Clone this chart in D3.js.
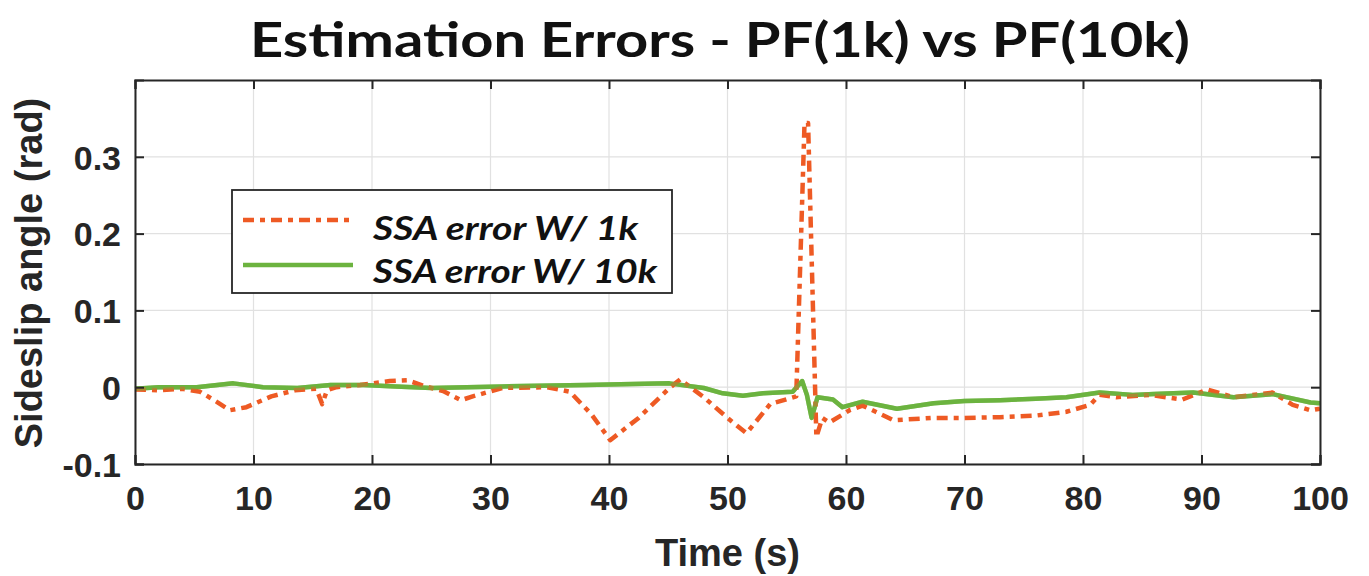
<!DOCTYPE html>
<html><head><meta charset="utf-8">
<script src="https://cdn.jsdelivr.net/npm/d3@7"></script>
<style>body{margin:0;background:#fff;}svg{display:block;}</style>
</head><body><svg id="c" width="1369" height="576"></svg>
<script>
const titleText = "Estimation Errors - PF(1k) vs PF(10k)";
const xLabel = "Time (s)";
const yLabel = "Sideslip angle (rad)";
const seriesNames = ["SSA error W/ 1k", "SSA error W/ 10k"];
const xTicks = [0,10,20,30,40,50,60,70,80,90,100];
const yTicks = [-0.1,0,0.1,0.2,0.3];
const yTickLabels = ["-0.1","0","0.1","0.2","0.3"];

const t1k = [0,2,4,5.5,7,8,9.4,11.5,13.5,15.3,15.8,16.2,17,19,21.5,23,24.5,26,27.5,28.5,31,34.8,36.7,38.5,40.1,42.5,45.1,46,48,50,51.6,53.6,55.8,56.5,56.8,57.5,58,58.6,60.3,61.4,62.5,64,67.3,70,73,76,78.6,80.6,81.4,82.8,85.6,88.4,90.5,92.7,96,97.7,99.2,100];
const v1k = [-0.003,-0.004,-0.002,-0.006,-0.02,-0.03,-0.026,-0.012,-0.004,-0.002,-0.022,-0.004,0.0,0.003,0.008,0.009,0.001,-0.005,-0.017,-0.012,-0.001,0.0,-0.006,-0.035,-0.069,-0.04,-0.001,0.01,-0.013,-0.04,-0.06,-0.022,-0.012,0.344,0.344,-0.065,-0.04,-0.046,-0.03,-0.024,-0.032,-0.043,-0.04,-0.04,-0.039,-0.037,-0.032,-0.023,-0.01,-0.013,-0.01,-0.016,-0.003,-0.013,-0.007,-0.023,-0.03,-0.028];

const t10k = [0,2,5.2,8.3,10.8,13.7,16.5,19.3,22,25,28,31,34,38,41,45.1,48,49.6,51.3,53,55.5,56.3,56.7,57.1,57.6,58.9,59.7,61.4,64.3,67.4,70,73,76,78.6,81.4,84.2,86,89.3,92.7,96,99.2,100];
const v10k = [-0.002,0.0,0.0,0.005,0.0,-0.001,0.003,0.003,0.001,-0.001,0.0,0.001,0.002,0.003,0.004,0.005,-0.001,-0.008,-0.011,-0.008,-0.006,0.008,-0.01,-0.04,-0.013,-0.016,-0.026,-0.019,-0.028,-0.021,-0.018,-0.017,-0.015,-0.013,-0.007,-0.01,-0.009,-0.007,-0.013,-0.009,-0.02,-0.021];

const colors = ["#EE5A24", "#6CB33F"];

const svg = d3.select("#c");
const L=135, R=1320, T=80, B=464;
const x = d3.scaleLinear().domain([0,100]).range([L,R]);
const y = d3.scaleLinear().domain([-0.1,0.4]).range([B,T]);

// grid
const g = svg.append("g");
g.selectAll("line.gx").data(xTicks).join("line")
  .attr("x1",d=>x(d)).attr("x2",d=>x(d)).attr("y1",T).attr("y2",B)
  .attr("stroke","#e1e1e1").attr("stroke-width",1.2);
g.selectAll("line.gy").data(yTicks).join("line")
  .attr("y1",d=>y(d)).attr("y2",d=>y(d)).attr("x1",L).attr("x2",R)
  .attr("stroke","#e1e1e1").attr("stroke-width",1.2);

// lines
const line = d3.line().x(d=>x(d[0])).y(d=>y(d[1]));
const d1 = t1k.map((t,i)=>[t,v1k[i]]);
const d2 = t10k.map((t,i)=>[t,v10k[i]]);
svg.append("path").attr("d",line(d2)).attr("fill","none").attr("stroke",colors[1])
  .attr("stroke-width",4.5).attr("stroke-linejoin","round");
svg.append("path").attr("d",line(d1)).attr("fill","none").attr("stroke",colors[0])
  .attr("stroke-width",4.5).attr("stroke-dasharray","11,6,5,6").attr("stroke-linejoin","round");
svg.append("path").attr("d",line(d2)).attr("fill","none").attr("stroke",colors[1])
  .attr("stroke-width",4.5).attr("stroke-linejoin","round").attr("opacity",0.55);

// axes
const xa = svg.append("g").attr("transform",`translate(0,${B})`)
  .call(d3.axisBottom(x).tickValues(xTicks).tickSize(-9).tickPadding(22).tickFormat(d3.format("d")));
const xaTop = svg.append("g").attr("transform",`translate(0,${T})`)
  .call(d3.axisTop(x).tickValues(xTicks).tickSize(-9).tickFormat(""));
const ya = svg.append("g").attr("transform",`translate(${L},0)`)
  .call(d3.axisLeft(y).tickValues(yTicks).tickSize(-9).tickPadding(14).tickFormat((d,i)=>yTickLabels[i]));
const yaR = svg.append("g").attr("transform",`translate(${R},0)`)
  .call(d3.axisRight(y).tickValues(yTicks).tickSize(-9).tickFormat(""));
[xa,xaTop,ya,yaR].forEach(a=>{
  a.select(".domain").attr("stroke","#262626").attr("stroke-width",2);
  a.selectAll(".tick line").attr("stroke","#262626").attr("stroke-width",2);
  a.selectAll(".tick text").attr("fill","#262626").attr("font-family","Liberation Sans, Arial, sans-serif")
    .attr("font-weight","bold").attr("font-size",34);
});
xa.selectAll(".tick text").attr("dy","0.71em");
ya.selectAll(".tick text").attr("dy","0.36em");

// axis labels
svg.append("text").attr("x",(L+R)/2).attr("y",566).attr("text-anchor","middle")
  .attr("font-family","Liberation Sans, Arial, sans-serif").attr("font-weight","bold")
  .attr("font-size",38).attr("fill","#262626").text(xLabel);
svg.append("text").attr("transform",`translate(42,273) rotate(-90)`).attr("text-anchor","middle")
  .attr("font-family","Liberation Sans, Arial, sans-serif").attr("font-weight","bold")
  .attr("font-size",38).attr("fill","#262626").text(yLabel);

// title
svg.append("text").attr("x",720).attr("y",57).attr("text-anchor","middle")
  .attr("font-family","Lato, sans-serif").attr("font-weight","bold")
  .attr("font-size",48).attr("fill","#111").attr("textLength",940).attr("lengthAdjust","spacingAndGlyphs")
  .text(titleText);

// legend
const lg = svg.append("g");
lg.append("rect").attr("x",232).attr("y",190).attr("width",440).attr("height",103)
  .attr("fill","#fff").attr("stroke","#262626").attr("stroke-width",1.8);
const legY = [220,265], txtY = [240,283], txtLen = [265,284];
seriesNames.forEach((n,i)=>{
  lg.append("line").attr("x1",243).attr("x2",353).attr("y1",legY[i]).attr("y2",legY[i])
    .attr("stroke",colors[i]).attr("stroke-width",4.5)
    .attr("stroke-dasharray", i===0 ? "11,6,5,6" : null);
  lg.append("text").attr("x",373).attr("y",txtY[i])
    .attr("font-family","Lato, sans-serif").attr("font-weight","bold").attr("font-style","italic")
    .attr("font-size",32).attr("fill","#111").attr("textLength",txtLen[i]).attr("lengthAdjust","spacingAndGlyphs")
    .text(n);
});
</script></body></html>
